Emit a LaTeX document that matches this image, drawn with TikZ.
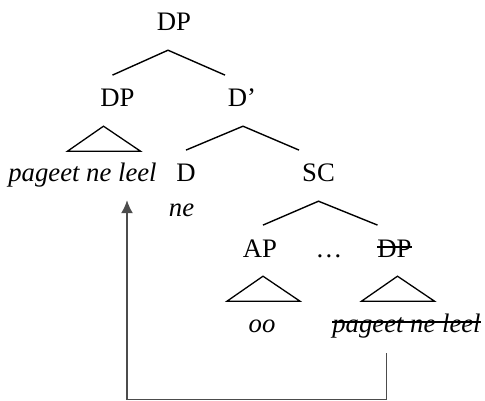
\documentclass[tikz,border=0pt]{standalone}
\usepackage{fontspec}
\setmainfont{Liberation Serif}
\usetikzlibrary{arrows.meta}

\newcommand{\treesize}{\fontsize{26.7pt}{32pt}\selectfont}
\newcommand{\strk}[1]{\setbox0\hbox{#1}\rlap{\rule[0.34em]{\wd0}{0.055em}}\box0}

\tikzset{
	cat/.style={anchor=base, inner xsep=0pt, inner ysep=14pt, text height=17.7pt, text depth=5pt, font=\treesize},
	word/.style={cat, font=\treesize\itshape},
	branch/.style={line width=1.4pt},
	tri/.style={line width=1.3pt, line join=miter},
	move/.style={line width=1.5pt, black!70, -{Latex[length=13pt,width=12pt]}}
}

\begin{document}
\begin{tikzpicture}[x=1pt, y=-1pt]
				\useasboundingbox (0,0) rectangle (485,401);

				\node [cat] (dpT) at (174,31) {DP};
				\node [cat] (dpL) at (117.5,107) {DP};
				\node [cat] (dbar) at (242,107) {D’};
				\node [word] (pgL) at (82.5,182) {pageet ne leel};
				\node [cat] (D) at (186,182) {D};
				\node [cat] (SC) at (318.5,182) {SC};
				\node [word] (ne) at (181.5,217) {ne};
				\node [cat] (AP) at (260,257) {AP};
				\node [cat] (dots) at (329,257) {…};
				\node [cat] (dpS) at (394.5,257) {\strk{DP}};
				\node [word] (oo) at (262,332) {oo};
				\node [word] (pgS) at (406.5,332) {\strk{pageet ne leel}};

				\draw [branch] ([xshift=-5pt]dpL.north) -- ([xshift=-6pt]dpT.south) -- ([xshift=-17pt]dbar.north);
				\draw [branch] (D.north) -- ([xshift=1pt]dbar.south) -- ([xshift=-19.5pt]SC.north);
				\draw [branch] ([xshift=3pt]AP.north) -- (SC.south) -- ([xshift=-17pt]dpS.north);

				\draw [tri] ([xshift=-14pt]dpL.south) -- ++(-36,25) -- ++(73,0) -- cycle;
				\draw [tri] ([xshift=3pt]AP.south) -- ++(-36,25) -- ++(73,0) -- cycle;
				\draw [tri] ([xshift=3pt]dpS.south) -- ++(-36,25) -- ++(73,0) -- cycle;

				\coordinate (bot) at (0,399.5);
				\draw [move] ([xshift=-20pt,yshift=-2pt]pgS.south) -- ([xshift=-20pt]pgS.south |- bot) -| ([xshift=44.5pt,yshift=1pt]pgL.south);

			\end{tikzpicture}
\end{document}
